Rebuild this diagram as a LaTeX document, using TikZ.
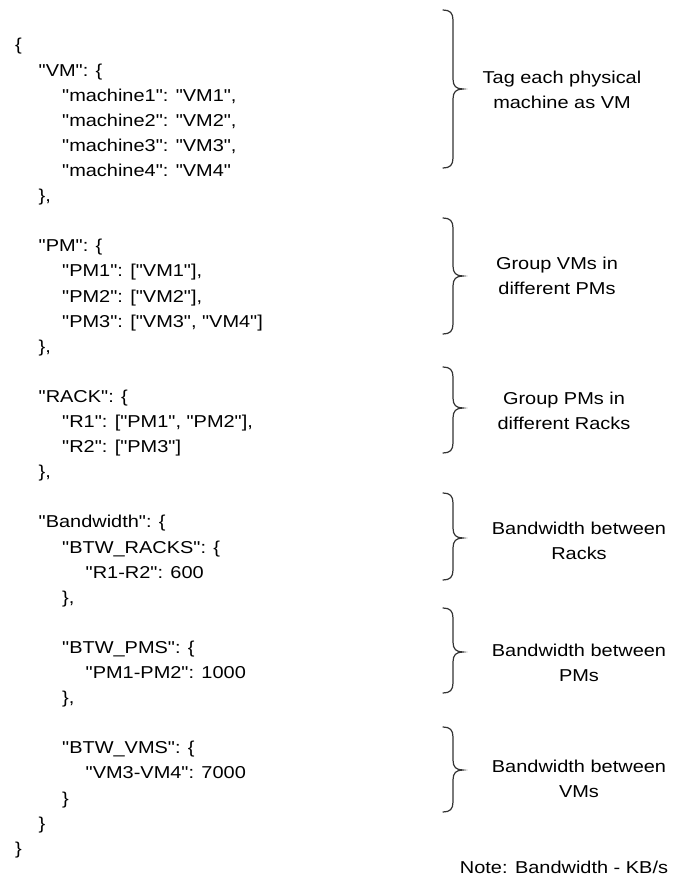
\documentclass[tikz,border=0pt]{standalone}
\usepackage{fontspec}
\setmainfont{Liberation Sans}[FakeStretch=1.16,Ligatures=TeXOff]
\begin{document}
\begin{tikzpicture}[x=1pt,y=-1pt]
\tikzset{json/.style={anchor=base west,inner sep=0pt,font=\fontsize{17.2}{25.1}\selectfont},
  lbl/.style={align=center,inner sep=0pt,font=\fontsize{17.2}{25.1}\selectfont},
  curly/.style={line width=1.2pt,black!80,line cap=round}}
\useasboundingbox (0,0) rectangle (673,891);
% The json listing
\foreach \i/\lvl/\txt in {0/0/\{, 1/1/{"VM": \{}, 2/2/{"machine1": "VM1",}, 3/2/{"machine2": "VM2",},
  4/2/{"machine3": "VM3",}, 5/2/{"machine4": "VM4"}, 6/1/{\},},
  8/1/{"PM": \{}, 9/2/{"PM1": ["VM1"],}, 10/2/{"PM2": ["VM2"],}, 11/2/{"PM3": ["VM3", "VM4"]}, 12/1/{\},},
  14/1/{"RACK": \{}, 15/2/{"R1": ["PM1", "PM2"],}, 16/2/{"R2": ["PM3"]}, 17/1/{\},},
  19/1/{"Bandwidth": \{}, 20/2/{"BTW\_RACKS": \{}, 21/3/{"R1-R2": 600}, 22/2/{\},},
  24/2/{"BTW\_PMS": \{}, 25/3/{"PM1-PM2": 1000}, 26/2/{\},},
  28/2/{"BTW\_VMS": \{}, 29/3/{"VM3-VM4": 7000}, 30/2/\}, 31/1/\}, 32/0/\}}
  \node[json] (l\i) at ({15+23.5*\lvl},{51+25.1*\i}) {\txt};
%%%
% Curly brackets
\foreach \t/\m/\b in {10/89/168, 218/276/334, 367/408/453, 493/538/580, 608/652/693, 727/770/812}
  \draw[curly] (443,\t) .. controls (450,\t) and (453,\t+3) .. (453,\t+10) -- (453,\m-10)
    .. controls (453,\m-3) and (456,\m) .. (463,\m)
    .. controls (456,\m) and (453,\m+3) .. (453,\m+10) -- (453,\b-10)
    .. controls (453,\b-3) and (450,\b) .. (443,\b);
%%%
\node[lbl] (tagvm) at (562,90) {Tag each physical\\machine as VM};
\node[lbl] (grpvm) at (557,276) {Group VMs in\\different PMs};
\node[lbl] (grppm) at (564,411) {Group PMs in\\different Racks};
\node[lbl] (bwracks) at (579,541) {Bandwidth between\\Racks};
\node[lbl] (bwpms) at (579,663) {Bandwidth between\\PMs};
\node[lbl] (bwvms) at (579,779) {Bandwidth between\\VMs};
\node[lbl] (note) at (564,867) {Note: Bandwidth - KB/s};
\end{tikzpicture}
\end{document}
